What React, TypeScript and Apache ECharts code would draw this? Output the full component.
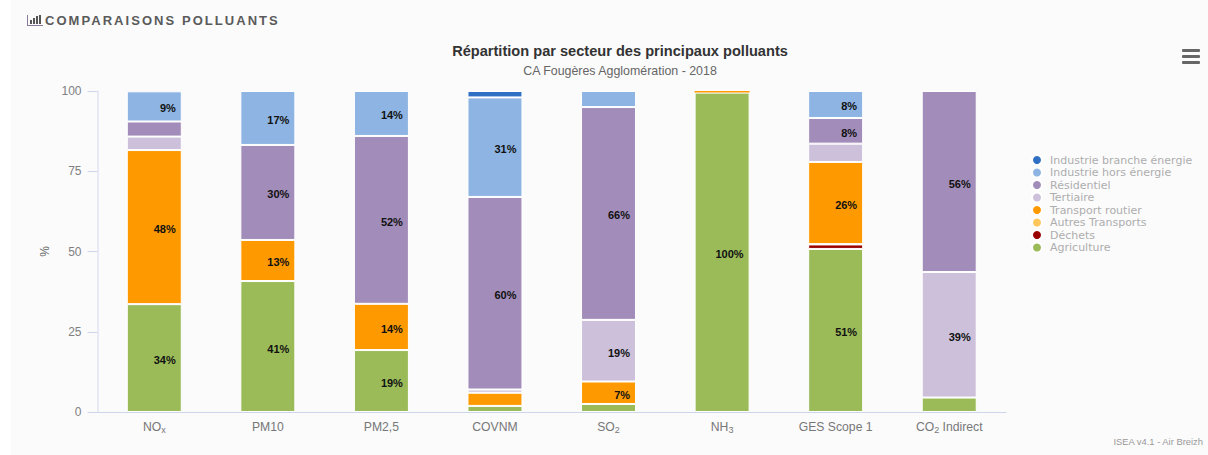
import React, { useEffect, useRef } from "react";
import * as echarts from "echarts";

const categories = ["NOx", "PM10", "PM2,5", "COVNM", "SO2", "NH3", "GES Scope 1", "CO2 Indirect"];
const categoryLabels = ["{n|NO}{s|x}", "{n|PM10}", "{n|PM2,5}", "{n|COVNM}", "{n|SO}{s|2}", "{n|NH}{s|3}", "{n|GES Scope 1}", "{n|CO}{s|2}{n| Indirect}"];
const yTicks = [0, 25, 50, 75, 100];

const agriculture = [33.6, 40.8, 19.3, 1.9, 2.5, 99.5, 50.8, 4.5];
const dechets = [null, null, null, null, null, null, 1.4, null];
const autresTransports = [null, null, null, null, null, null, 0.1, null];
const transportRoutier = [48, 12.8, 14.4, 4.1, 7, 0.5, 25.6, null];
const tertiaire = [4.2, null, null, 1, 19.2, null, 5.7, 39.1];
const residentiel = [4.7, 29.6, 52.3, 60, 66.3, null, 8.0, 56.4];
const industrieHors = [9.4, 16.8, 14, 31, 5, null, 8.4, null];
const industrieBranche = [null, null, null, 2, null, null, null, null];

const seriesDefs = [
  { name: "Agriculture", data: agriculture, color: "#9BBB59" },
  { name: "Déchets", data: dechets, color: "#990000" },
  { name: "Autres Transports", data: autresTransports, color: "#FFC65C" },
  { name: "Transport routier", data: transportRoutier, color: "#FF9900" },
  { name: "Tertiaire", data: tertiaire, color: "#CCC0DA" },
  { name: "Résidentiel", data: residentiel, color: "#A28CB9" },
  { name: "Industrie hors énergie", data: industrieHors, color: "#8DB4E2" },
  { name: "Industrie branche énergie", data: industrieBranche, color: "#3070C4" },
];
const legendOrder = [...seriesDefs].reverse().map((s) => s.name);

const MAIN_TITLE = "COMPARAISONS POLLUANTS";
const sans = "Liberation Sans, Arial, sans-serif";

export default function App() {
  const ref = useRef<HTMLDivElement>(null);
  useEffect(() => {
    document.body.style.margin = "0";
    document.body.style.background = "#fff";
    const chart = echarts.init(ref.current!, null, { renderer: "svg" });
    chart.setOption({
      animation: false,
      backgroundColor: "transparent",
      textStyle: { fontFamily: sans },
      title: [
        {
          text: "Répartition par secteur des principaux polluants",
          left: 620, top: 43, padding: 0, textAlign: "center",
          textStyle: { fontSize: 14.6, fontWeight: "bold", color: "#333", fontFamily: sans },
        },
        {
          text: "CA Fougères Agglomération - 2018",
          left: 620, top: 65, padding: 0, textAlign: "center",
          textStyle: { fontSize: 12.4, fontWeight: "normal", color: "#666", fontFamily: sans },
        },
        {
          text: MAIN_TITLE,
          left: 45, top: 14, padding: 0,
          textStyle: { fontSize: 13, fontWeight: "bold", color: "#5a5a5a", fontFamily: sans },
        },
      ],
      legend: {
        orient: "vertical",
        left: 1026,
        top: 149,
        data: legendOrder,
        icon: "circle",
        itemWidth: 10,
        itemHeight: 10,
        itemGap: 0.5,
        selectedMode: false,
        textStyle: { fontFamily: "DejaVu Sans", fontSize: 11, color: "#adadad", lineHeight: 12, padding: [0, 0, 0, 3] },
      },
      grid: { left: 97.5, right: 202, top: 91, bottom: 43, containLabel: false },
      xAxis: {
        type: "category",
        data: categories,
        axisTick: { show: false },
        axisLine: { lineStyle: { color: "#ccd6eb", width: 1 } },
        axisLabel: {
          margin: 8,
          interval: 0,
          formatter: (_v: string, i: number) => categoryLabels[i],
          rich: {
            n: { fontSize: 12.2, color: "#777", fontFamily: sans, lineHeight: 14 },
            s: { fontSize: 9, color: "#777", fontFamily: sans, verticalAlign: "bottom", lineHeight: 9, padding: [5, 0, 0, 0] },
          },
        },
      },
      yAxis: {
        type: "value",
        min: 0,
        max: 100,
        interval: 25,
        name: "%",
        nameLocation: "middle",
        nameRotate: 90,
        nameGap: 44,
        nameTextStyle: { color: "#666", fontSize: 12 },
        splitLine: { show: false },
        axisLine: { show: true, lineStyle: { color: "#e0e5f2", width: 1.5 } },
        axisTick: { show: true, length: 10, lineStyle: { color: "#ccd6eb" } },
        axisLabel: {
          margin: 16, color: "#808080", fontSize: 12,
          formatter: (v: number) => (yTicks.includes(v) ? String(v) : ""),
        },
      },
      series: seriesDefs.map((s) => ({
        name: s.name,
        type: "bar",
        stack: "total",
        barWidth: 55,
        // A sliver this thin would vanish under its white outline.
        data: s.data.map((v) => (v !== null && v < 1 && s.name === "Transport routier" ? { value: v, itemStyle: { borderWidth: 0 } } : v)),
        itemStyle: { color: s.color, borderColor: "#ffffff", borderWidth: 1 },
        label: {
          show: true,
          position: "insideRight",
          distance: 6,
          offset: [0, 2],
          fontSize: 11,
          fontWeight: "bold",
          color: "#111",
          formatter: (p: any) => (p.value >= 6.5 ? Math.round(p.value) + "%" : ""),
        },
      })),
      graphic: [
        { type: "rect", z: -10, silent: true, shape: { x: 11, y: 0, width: 1197, height: 455 }, style: { fill: "#fbfbfc" } },
        // header icon
        { type: "rect", shape: { x: 27, y: 15, width: 1, height: 11 }, style: { fill: "#8a7a9a" } },
        { type: "rect", shape: { x: 27, y: 25, width: 16, height: 1 }, style: { fill: "#8a7a9a" } },
        { type: "rect", shape: { x: 30, y: 20, width: 2, height: 4 }, style: { fill: "#555" } },
        { type: "rect", shape: { x: 33, y: 18, width: 2, height: 6 }, style: { fill: "#555" } },
        { type: "rect", shape: { x: 36, y: 16, width: 2, height: 8 }, style: { fill: "#555" } },
        { type: "rect", shape: { x: 39, y: 15, width: 2, height: 9 }, style: { fill: "#555" } },
        // menu icon
        { type: "rect", shape: { x: 1182, y: 49, width: 18, height: 3, r: 1 }, style: { fill: "#666" } },
        { type: "rect", shape: { x: 1182, y: 55, width: 18, height: 3, r: 1 }, style: { fill: "#666" } },
        { type: "rect", shape: { x: 1182, y: 61, width: 18, height: 3, r: 1 }, style: { fill: "#666" } },
        {
          type: "text", x: 1203, y: 437,
          style: { text: "ISEA v4.1 - Air Breizh", fill: "#999", font: `9.4px ${sans}`, textAlign: "right" },
        },
      ],
    });
    // ECharts has no letter-spacing option: apply it to the header's text node.
    ref.current!.querySelectorAll("text").forEach((t) => {
      if (t.textContent === MAIN_TITLE) t.style.letterSpacing = "2.05px";
    });
    return () => chart.dispose();
  }, []);
  return <div ref={ref} style={{ width: 1208, height: 455 }} />;
}
